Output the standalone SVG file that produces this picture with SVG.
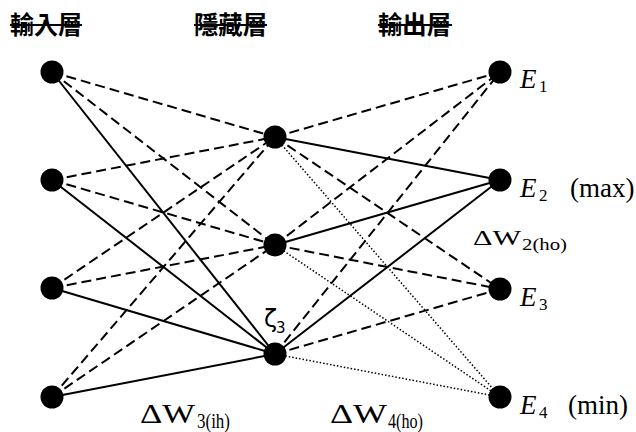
<svg xmlns="http://www.w3.org/2000/svg" width="636" height="432" viewBox="0 0 636 432">
  <style>
    .solid { stroke: #000; stroke-width: 2; fill: none; }
    .dash { stroke: #000; stroke-width: 2; fill: none; stroke-dasharray: 10 5; }
    .dot { stroke: #000; stroke-width: 1.5; fill: none; stroke-dasharray: 1.5 2; }
    .node { fill: #000; }
    .title { font-family: "Noto Sans CJK TC", "Noto Sans CJK SC", sans-serif; font-size: 25px; font-weight: bold; fill: #000; }
    .strike { stroke: #000; stroke-width: 2; }
    .lbl { font-family: "Liberation Serif", "Times New Roman", serif; fill: #000; }
    .e { font-size: 27px; font-style: italic; }
    .esub { font-size: 17px; }
    .paren { font-size: 27px; }
    .greek { font-family: "DejaVu Sans", sans-serif; fill: #000; }
  </style>
  <rect width="636" height="432" fill="#fff"/>

  <!-- layer titles -->
  <g id="title-input">
    <text class="title" x="10" y="34" textLength="72" lengthAdjust="spacingAndGlyphs">輸入層</text>
    <line class="strike" x1="10" y1="25" x2="82" y2="25"/>
  </g>
  <g id="title-hidden">
    <text class="title" x="194" y="34" textLength="73" lengthAdjust="spacingAndGlyphs">隱藏層</text>
    <line class="strike" x1="194" y1="25" x2="267" y2="25"/>
  </g>
  <g id="title-output">
    <text class="title" x="378" y="34" textLength="73" lengthAdjust="spacingAndGlyphs">輸出層</text>
    <line class="strike" x1="378" y1="25" x2="452" y2="25"/>
  </g>

  <g id="connectors">
    <!-- input -> hidden -->
    <line class="dash" x1="52" y1="72" x2="275" y2="137"/>
    <line class="dash" x1="52" y1="72" x2="275" y2="245"/>
    <line class="solid" x1="52" y1="72" x2="275" y2="354"/>
    <line class="dash" x1="52" y1="180" x2="275" y2="137"/>
    <line class="dash" x1="52" y1="180" x2="275" y2="245"/>
    <line class="solid" x1="52" y1="180" x2="275" y2="354"/>
    <line class="dash" x1="52" y1="288" x2="275" y2="137"/>
    <line class="dash" x1="52" y1="288" x2="275" y2="245"/>
    <line class="solid" x1="52" y1="288" x2="275" y2="354"/>
    <line class="dash" x1="52" y1="397" x2="275" y2="137"/>
    <line class="dash" x1="52" y1="397" x2="275" y2="245"/>
    <line class="solid" x1="52" y1="397" x2="275" y2="354"/>
    <!-- hidden -> output -->
    <line class="dash" x1="275" y1="137" x2="500" y2="72"/>
    <line class="solid" x1="275" y1="137" x2="500" y2="180"/>
    <line class="dash" x1="275" y1="137" x2="500" y2="289"/>
    <line class="dot" x1="275" y1="137" x2="500" y2="397"/>
    <line class="dash" x1="275" y1="245" x2="500" y2="72"/>
    <line class="solid" x1="275" y1="245" x2="500" y2="180"/>
    <line class="dash" x1="275" y1="245" x2="500" y2="289"/>
    <line class="dot" x1="275" y1="245" x2="500" y2="397"/>
    <line class="dash" x1="275" y1="354" x2="500" y2="72"/>
    <line class="solid" x1="275" y1="354" x2="500" y2="180"/>
    <line class="dash" x1="275" y1="354" x2="500" y2="289"/>
    <line class="dot" x1="275" y1="354" x2="500" y2="397"/>
  </g>

  <!-- input layer -->
  <g id="in1"><circle class="node" cx="52" cy="72" r="11.5"/></g>
  <g id="in2"><circle class="node" cx="52" cy="180" r="11.5"/></g>
  <g id="in3"><circle class="node" cx="52" cy="288" r="11.5"/></g>
  <g id="in4"><circle class="node" cx="52" cy="397" r="11.5"/></g>

  <!-- hidden layer -->
  <g id="h1"><circle class="node" cx="275" cy="137" r="11.5"/></g>
  <g id="h2"><circle class="node" cx="275" cy="245" r="11.5"/></g>
  <g id="h3">
    <circle class="node" cx="275" cy="354" r="11.5"/>
    <text class="greek" x="264" y="327" font-size="24">ζ</text>
    <text class="greek" x="276" y="333" font-size="15">3</text>
  </g>

  <!-- output layer -->
  <g id="out1">
    <circle class="node" cx="500" cy="72" r="11.5"/>
    <text class="lbl e" x="520" y="88">E</text>
    <text class="lbl esub" x="539" y="92">1</text>
  </g>
  <g id="out2">
    <circle class="node" cx="500" cy="180" r="11.5"/>
    <text class="lbl e" x="520" y="197">E</text>
    <text class="lbl esub" x="539" y="201">2</text>
    <text class="lbl paren" x="570" y="197">(max)</text>
  </g>
  <g id="out3">
    <circle class="node" cx="500" cy="289" r="11.5"/>
    <text class="lbl e" x="520" y="306">E</text>
    <text class="lbl esub" x="539" y="310">3</text>
  </g>
  <g id="out4">
    <circle class="node" cx="500" cy="397" r="11.5"/>
    <text class="lbl e" x="520" y="414">E</text>
    <text class="lbl esub" x="539" y="418">4</text>
    <text class="lbl paren" x="568" y="414">(min)</text>
  </g>

  <!-- weight change labels -->
  <g id="dw2">
    <text class="lbl" x="473" y="245" font-size="21" textLength="48" lengthAdjust="spacingAndGlyphs">ΔW</text>
    <text class="lbl" x="522" y="250" font-size="17" textLength="45" lengthAdjust="spacingAndGlyphs">2(ho)</text>
  </g>
  <g id="dw3">
    <text class="lbl" x="140" y="423" font-size="27" textLength="55" lengthAdjust="spacingAndGlyphs">ΔW</text>
    <text class="lbl" x="197" y="428" font-size="20" textLength="33" lengthAdjust="spacingAndGlyphs">3(ih)</text>
  </g>
  <g id="dw4">
    <text class="lbl" x="330" y="423" font-size="27" textLength="57" lengthAdjust="spacingAndGlyphs">ΔW</text>
    <text class="lbl" x="388" y="428" font-size="20" textLength="35" lengthAdjust="spacingAndGlyphs">4(ho)</text>
  </g>
</svg>
